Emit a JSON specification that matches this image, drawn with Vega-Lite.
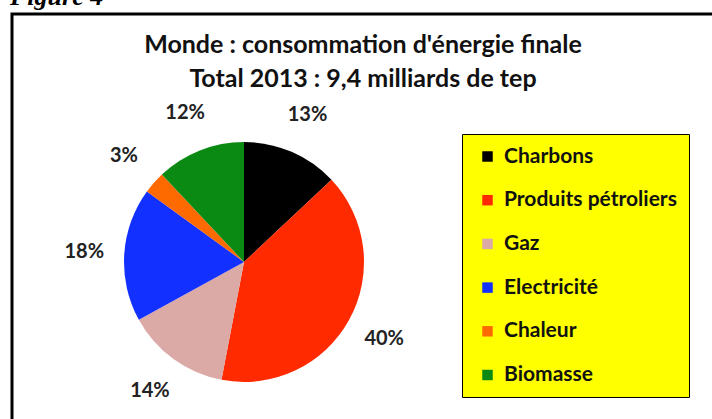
{
  "$schema": "https://vega.github.io/schema/vega-lite/v6.json",
  "width": 702,
  "height": 420,
  "autosize": "none",
  "padding": {"left": 12, "top": 14, "right": 0, "bottom": 0},
  "background": "white",
  "view": {"stroke": "black", "strokeWidth": 3, "fill": "white"},
  "title": {
    "text": ["Monde : consommation  d'énergie finale", "Total 2013 : 9,4 milliards de tep"],
    "orient": "top",
    "anchor": "middle",
    "frame": "group",
    "baseline": "top",
    "offset": -108,
    "font": "Lato",
    "fontWeight": "bold",
    "fontSize": 25,
    "lineHeight": 34,
    "color": "#111111"
  },
  "datasets": {
    "energie": [
      {"source": "Charbons", "part": 13, "ordre": 1, "etiquette": "13%"},
      {"source": "Produits pétroliers", "part": 40, "ordre": 2, "etiquette": "40%"},
      {"source": "Gaz", "part": 14, "ordre": 3, "etiquette": "14%"},
      {"source": "Electricité", "part": 18, "ordre": 4, "etiquette": "18%"},
      {"source": "Chaleur", "part": 3, "ordre": 5, "etiquette": "3%"},
      {"source": "Biomasse", "part": 12, "ordre": 6, "etiquette": "12%"}
    ],
    "figure": [{"t": "Figure 4"}]
  },
  "layer": [
    {
      "data": {"name": "energie"},
      "mark": {"type": "arc", "x": 232, "y": 248, "outerRadius": 120, "stroke": null},
      "encoding": {
        "theta": {"field": "part", "type": "quantitative", "stack": true},
        "order": {"field": "ordre", "type": "quantitative"},
        "color": {
          "field": "source",
          "type": "nominal",
          "sort": null,
          "scale": {
            "domain": ["Charbons", "Produits pétroliers", "Gaz", "Electricité", "Chaleur", "Biomasse"],
            "range": ["#000000", "#ff2a00", "#dba9a6", "#1230ff", "#ff6a00", "#0a8a12"]
          },
          "legend": {
            "title": null,
            "orient": "none",
            "legendX": 450,
            "legendY": 120,
            "fillColor": "#ffff00",
            "strokeColor": "#000000",
            "padding": 12,
            "symbolType": "square",
            "symbolSize": 110,
            "symbolStrokeWidth": 0,
            "symbolOffset": 3,
            "labelFont": "Lato",
            "labelFontWeight": "bold",
            "labelFontSize": 21,
            "labelColor": "#111111",
            "labelOffset": 6,
            "labelLimit": 300,
            "rowPadding": 21.7,
            "encode": {"legend": {"update": {"strokeWidth": {"value": 2.5}}}}
          }
        }
      }
    },
    {
      "data": {"name": "energie"},
      "mark": {"type": "text", "x": 232, "y": 248, "radius": 160, "font": "Lato", "fontWeight": "bold", "fontSize": 20, "color": "#222222"},
      "encoding": {
        "theta": {"field": "part", "type": "quantitative", "stack": true},
        "order": {"field": "ordre", "type": "quantitative"},
        "text": {"field": "etiquette", "type": "nominal"}
      }
    },
    {
      "data": {"name": "figure"},
      "mark": {"type": "text", "x": -2, "y": -9, "align": "left", "baseline": "alphabetic", "font": "Liberation Serif", "fontStyle": "italic", "fontWeight": "bold", "fontSize": 26, "color": "#000000"},
      "encoding": {
        "text": {"field": "t", "type": "nominal"}
      }
    }
  ]
}
